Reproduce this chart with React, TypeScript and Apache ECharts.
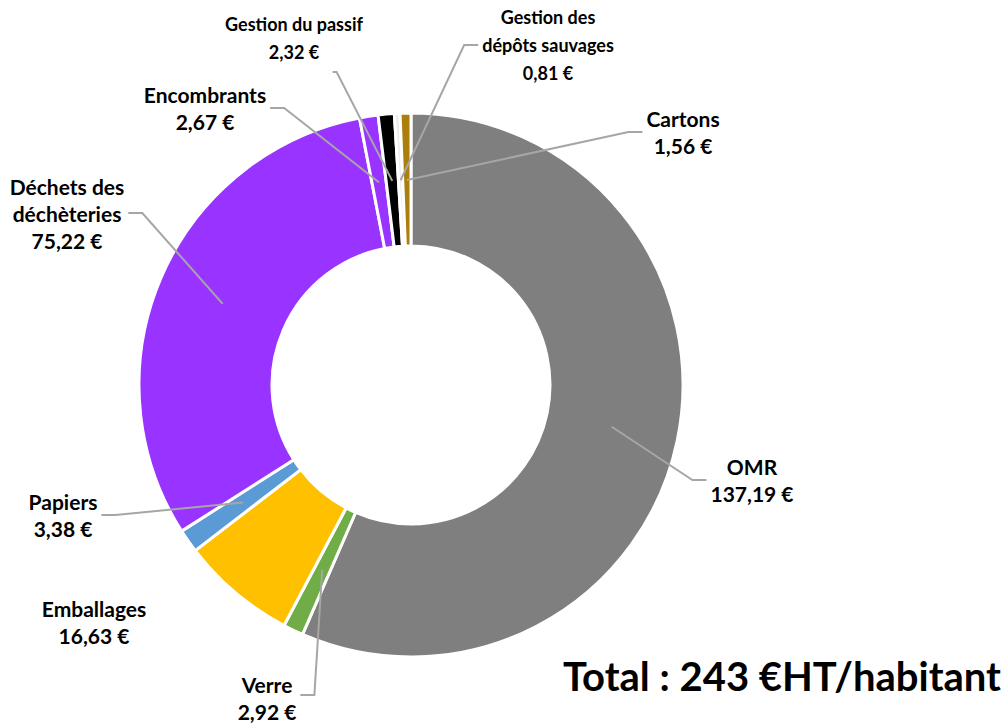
import React, { useEffect, useRef } from "react";
import * as echarts from "echarts";

const categories = [
  "OMR",
  "Verre",
  "Emballages",
  "Papiers",
  "Déchets des\ndéchèteries",
  "Encombrants",
  "Gestion du passif",
  "Gestion des\ndépôts sauvages",
  "Cartons",
];
const values = [137.19, 2.92, 16.63, 3.38, 75.22, 2.67, 2.32, 0.81, 1.56];
const colors = [
  "#7F7F7F",
  "#70AD47",
  "#FFC000",
  "#5B9BD5",
  "#9933FF",
  "#9933FF",
  "#000000",
  "#EDEDED",
  "#AC7F0C",
];
// label anchor positions, font sizes and leader side (layout only)
const labelAnchors: [number, number][] = [
  [752, 480],
  [267, 698],
  [94, 622],
  [63, 515],
  [67, 213],
  [205, 108],
  [294, 38],
  [548, 45],
  [683, 132],
];
const labelSizes = [21, 21, 21, 21, 21, 21, 18, 18, 21];
const leaderSide = ["left", "right", "none", "right", "right", "right", "bottom", "left", "left"];
const totalText = "Total : 243 €HT/habitant";

const CX = 411;
const CY = 385;
const R_IN = 139;
const R_OUT = 272;
const R_LEADER = 205;

const fmt = (v: number) => v.toFixed(2).replace(".", ",") + " €";

export default function App() {
  const ref = useRef<HTMLDivElement>(null);
  useEffect(() => {
    const chart = echarts.init(ref.current!, null, { renderer: "svg" });
    const total = values.reduce((a, b) => a + b, 0);
    const midAngles: number[] = [];
    let cum = 0;
    values.forEach((v) => {
      midAngles.push(((cum + v / 2) / total) * Math.PI * 2);
      cum += v;
    });
    const data = categories.map((c, i) => ({
      name: c,
      value: values[i],
      itemStyle: { color: colors[i] },
    }));
    chart.setOption({
      animation: false,
      backgroundColor: "#FFFFFF",
      textStyle: { fontFamily: "Lato" },
      series: [
        {
          type: "pie",
          z: 2,
          center: [CX, CY],
          radius: [R_IN, R_OUT],
          startAngle: 90,
          clockwise: true,
          avoidLabelOverlap: false,
          silent: true,
          itemStyle: { borderColor: "#FFFFFF", borderWidth: 3 },
          data,
          label: { show: false },
          labelLine: { show: false },
        },
        {
          type: "pie",
          z: 5,
          center: [CX, CY],
          radius: [0, R_LEADER],
          startAngle: 90,
          clockwise: true,
          avoidLabelOverlap: false,
          silent: true,
          itemStyle: { color: "rgba(0,0,0,0)", borderWidth: 0 },
          data: categories.map((c, i) => ({
            name: c,
            value: values[i],
            label: {
              fontSize: labelSizes[i],
              lineHeight: labelSizes[i] >= 21 ? 27 : 28,
            },
            labelLine: { show: leaderSide[i] !== "none" },
          })),
          label: {
            show: true,
            position: "outside",
            formatter: (p: any) => `${p.name}\n${fmt(p.value)}`,
            fontFamily: "Lato",
            fontWeight: "bold",
            fontSize: 21,
            lineHeight: 27,
            color: "#000000",
            align: "center",
          },
          labelLine: {
            show: true,
            length: 20,
            length2: 14,
            lineStyle: { color: "#A6A6A6", width: 2 },
          },
          labelLayout: (params: any) => {
            const i = params.dataIndex;
            const a = labelAnchors[i];
            const w = params.labelRect.width;
            const h = params.labelRect.height;
            const ang = midAngles[i];
            const ax = CX + R_LEADER * Math.sin(ang);
            const ay = CY - R_LEADER * Math.cos(ang);
            const side = leaderSide[i];
            let pts: number[][] | undefined;
            if (side === "left") {
              const sx = a[0] - w / 2 - 4;
              pts = [[sx, a[1]], [sx - 14, a[1]], [ax, ay]];
            } else if (side === "right") {
              const sx = a[0] + w / 2 + 4;
              pts = [[sx, a[1] - (i === 1 ? 3 : 0)], [sx + 14, a[1] - (i === 1 ? 3 : 0)], [ax, ay]];
            } else if (side === "bottom") {
              const sx = a[0] + w * 0.28;
              const sy = a[1] + h / 2 + 6;
              pts = [[sx, sy], [sx + 4, sy], [ax, ay]];
            }
            const res: any = {
              x: a[0],
              y: a[1],
              align: "center",
              verticalAlign: "middle",
            };
            if (pts) res.labelLinePoints = pts;
            return res;
          },
        },
      ],
      graphic: [
        {
          type: "text",
          right: 6,
          top: 656,
          style: {
            text: totalText,
            fontFamily: "Lato",
            fontWeight: "bold",
            fontSize: 40,
            fill: "#000000",
          },
        },
      ],
    });
    return () => chart.dispose();
  }, []);
  return (
    <div
      ref={ref}
      style={{ position: "fixed", left: 0, top: 0, width: 1007, height: 724 }}
    />
  );
}
